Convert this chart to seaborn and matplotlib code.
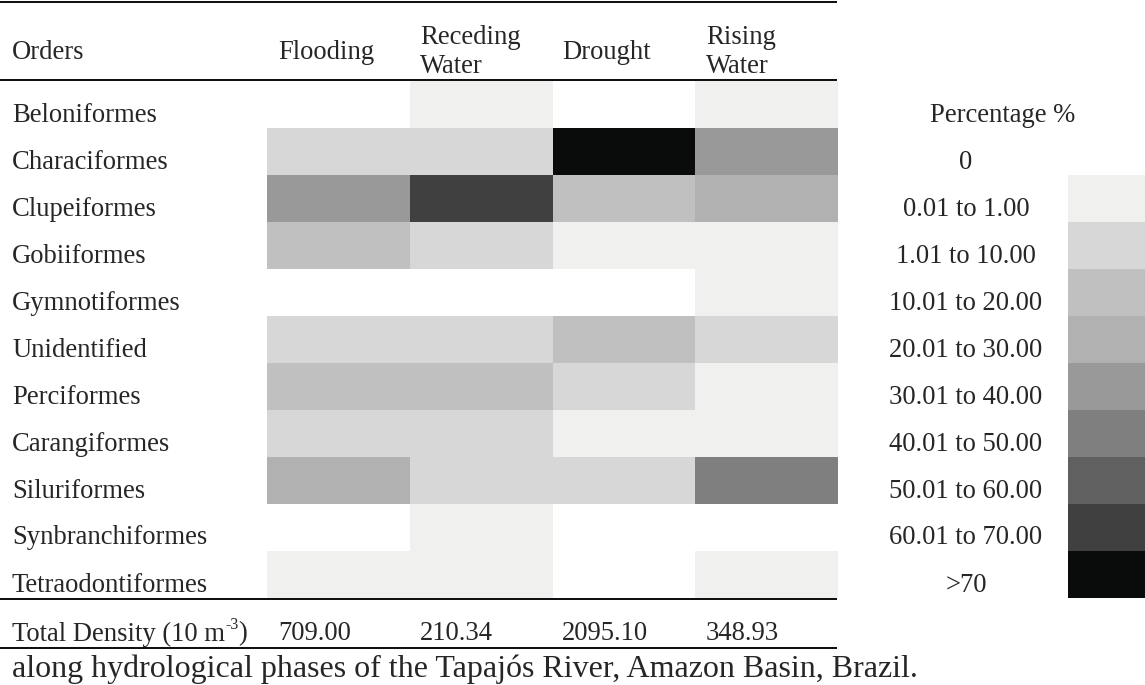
import numpy as np
import pandas as pd
import matplotlib
matplotlib.use("Agg")
import matplotlib.pyplot as plt
from matplotlib.colors import ListedColormap
import seaborn as sns

sns.set_theme(style="white")
plt.rcParams['font.family'] = ['Liberation Serif', 'DejaVu Serif']

# ---- data -------------------------------------------------------------
orders = ["Beloniformes", "Characiformes", "Clupeiformes", "Gobiiformes",
          "Gymnotiformes", "Unidentified", "Perciformes", "Carangiformes",
          "Siluriformes", "Synbranchiformes", "Tetraodontiformes"]
phases = ["Flooding", "Receding\nWater", "Drought", "Rising\nWater"]
# class index (0 = "0", 1 = "0.01 to 1.00", ..., 9 = ">70")
flooding = [0, 2, 5, 3, 0, 2, 3, 2, 4, 0, 1]
receding = [1, 2, 8, 2, 0, 2, 3, 2, 2, 1, 1]
drought = [0, 9, 3, 1, 0, 3, 2, 1, 2, 0, 0]
rising = [1, 5, 4, 1, 1, 2, 1, 1, 6, 0, 1]
total_density = ["709.00", "210.34", "2095.10", "348.93"]
class_labels = ["0", "0.01 to 1.00", "1.01 to 10.00", "10.01 to 20.00",
                "20.01 to 30.00", "30.01 to 40.00", "40.01 to 50.00",
                "50.01 to 60.00", "60.01 to 70.00", ">70"]
class_colors = ["#ffffff", "#f0f0ef", "#d7d7d7", "#bfc0bf", "#b1b1b1",
                "#999999", "#7f7f7f", "#606060", "#404040", "#0a0b0b"]
caption = "along hydrological phases of the Tapajós River, Amazon Basin, Brazil."

df = pd.DataFrame({"Flooding": flooding, "Receding": receding,
                   "Drought": drought, "Rising": rising}, index=orders)
cmap = ListedColormap(class_colors)

# ---- figure ------------------------------------------------------------
W, H = 1145, 685
fig = plt.figure(figsize=(W / 100, H / 100), dpi=100)
fig.patch.set_facecolor("white")

def px_axes(x0, y0, x1, y1):
    return fig.add_axes([x0 / W, 1 - y1 / H, (x1 - x0) / W, (y1 - y0) / H])

# overlay axes in pixel coordinates for rules and text
ax0 = fig.add_axes([0, 0, 1, 1])
ax0.set_xlim(0, W)
ax0.set_ylim(H, 0)
ax0.axis("off")

# main heatmap
ax = px_axes(267, 81, 838, 598)
sns.heatmap(df, cmap=cmap, vmin=-0.5, vmax=len(class_colors) - 0.5,
            cbar=False, ax=ax, xticklabels=False, yticklabels=False,
            linewidths=0)
ax.axis("off")

# legend heatmap (classes 1..9)
axl = px_axes(1068, 175, 1145, 598)
leg = pd.DataFrame({"c": list(range(1, len(class_colors)))})
sns.heatmap(leg, cmap=cmap, vmin=-0.5, vmax=len(class_colors) - 0.5,
            cbar=False, ax=axl, xticklabels=False, yticklabels=False,
            linewidths=0)
axl.axis("off")

# rules
for y in [1.5, 80, 599, 648]:
    ax0.plot([0, 837], [y, y], color="#111111", lw=1.45,
             solid_capstyle="butt")

fs = 19.2
col_x = [278, 420, 562, 706]
ax0.text(12, 52, "Orders", fontsize=fs, va="center", ha="left")
for x, p in zip(col_x, phases):
    ax0.text(x, 52, p, fontsize=fs, va="center", ha="left", linespacing=1.25)

row_y = [115 + 47 * i for i in range(len(orders))]
for y, o in zip(row_y, orders):
    ax0.text(12, y, o, fontsize=fs, va="center", ha="left")

t1 = ax0.text(12, 634, "Total Density (10 m", fontsize=fs,
              va="center", ha="left")
t2 = ax0.annotate("-3", xy=(1, 0.55), xycoords=t1, fontsize=fs * 0.6,
                  va="bottom", ha="left")
ax0.annotate(")", xy=(1, 0), xycoords=(t2, t1), fontsize=fs,
             va="bottom", ha="left")
for x, v in zip(col_x, total_density):
    ax0.text(x, 634, v, fontsize=fs, va="center", ha="left")

# legend labels
ax0.text(1003, 115, "Percentage %", fontsize=fs, va="center", ha="center")
for y, lab in zip(row_y[1:], class_labels):
    ax0.text(966, y, lab, fontsize=fs, va="center", ha="center")

ax0.text(12, 669, caption, fontsize=23, va="center", ha="left")

fig.savefig("out.png", dpi=100, facecolor="white")
